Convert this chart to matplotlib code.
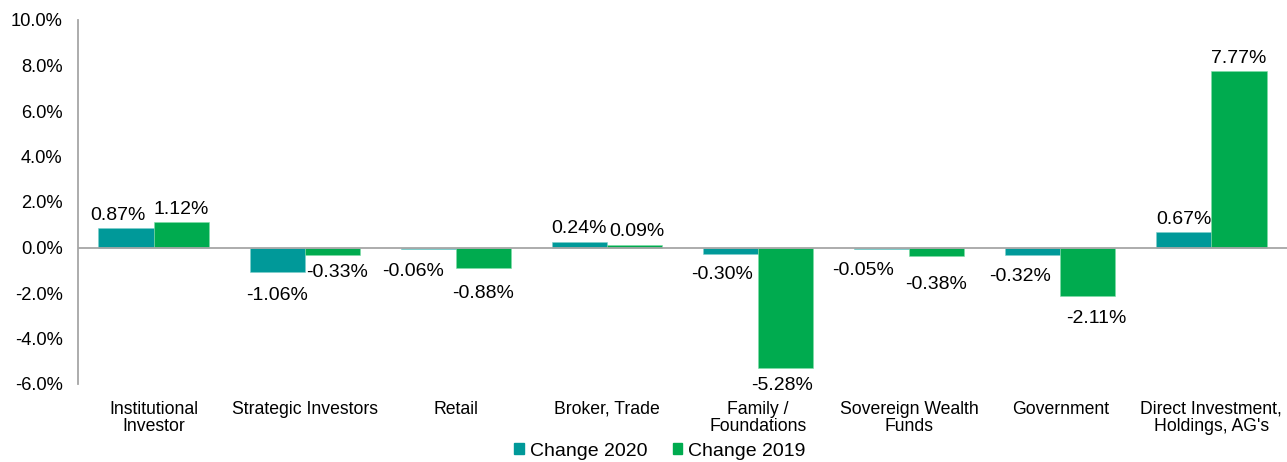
import matplotlib
matplotlib.use("Agg")
import matplotlib.pyplot as plt
import numpy as np
from matplotlib.ticker import FuncFormatter
from matplotlib.patches import Patch

plt.rcParams['font.family'] = ['Liberation Sans', 'DejaVu Sans']

categories = ["Institutional\nInvestor", "Strategic Investors", "Retail", "Broker, Trade",
              "Family /\nFoundations", "Sovereign Wealth\nFunds", "Government",
              "Direct Investment,\nHoldings, AG's"]
change_2020 = [0.87, -1.06, -0.06, 0.24, -0.30, -0.05, -0.32, 0.67]
change_2019 = [1.12, -0.33, -0.88, 0.09, -5.28, -0.38, -2.11, 7.77]
series_names = ["Change 2020", "Change 2019"]
y_ticks = [-6, -4, -2, 0, 2, 4, 6, 8, 10]

c2020 = "#009999"
c2019 = "#00AB4F"
gray = "#A6A6A6"

W, H = 1287, 462
fig = plt.figure(figsize=(W/100, H/100), dpi=100)
ax = fig.add_axes([78/W, 1-384/H, (W-78)/W, (384-20)/H])

x = np.arange(len(categories))
bw = 0.365
b1 = ax.bar(x - bw/2, change_2020, bw, color=c2020, edgecolor="#7FD0CC", linewidth=0.4, zorder=2)
b2 = ax.bar(x + bw/2, change_2019, bw, color=c2019, edgecolor="#7FDDA8", linewidth=0.4, zorder=2)

ax.set_xlim(-0.5, len(categories) - 0.5)
ax.set_ylim(-6, 10)
ax.set_yticks(y_ticks)
ax.yaxis.set_major_formatter(FuncFormatter(lambda v, p: f"{v:.1f}%"))
ax.set_xticks(x)
ax.set_xticklabels(categories, linespacing=1.05)
ax.tick_params(axis='both', length=0, colors='black')
ax.tick_params(axis='x', pad=12, labelsize=12.7)
ax.tick_params(axis='y', pad=11, labelsize=13.2)

for s in ['top', 'right', 'bottom']:
    ax.spines[s].set_visible(False)
ax.spines['left'].set_color(gray)
ax.spines['left'].set_linewidth(1.3)
ax.axhline(0, color=gray, linewidth=1.3, zorder=3)

# label offsets in pixels (dx, dy), keyed by (series, index); layout only
default_pos = (0, 4)
default_neg = (0, -13)
label_offsets = {
    (0, 0): (-8, 4),
    (0, 1): (0, -15), (1, 1): (5, -9),
    (0, 2): (-15, -14), (1, 2): (0, -17),
    (0, 3): (0, 5), (1, 3): (2, 5),
    (0, 4): (-8, -12), (1, 4): (-4, -9),
    (0, 5): (-19, -13), (1, 5): (-1, -20),
    (0, 6): (-13, -13), (1, 6): (8, -14),
}
for si, bars in enumerate([b1, b2]):
    vals = [change_2020, change_2019][si]
    for i, (bar, v) in enumerate(zip(bars, vals)):
        cx = bar.get_x() + bar.get_width()/2
        off = label_offsets.get((si, i), default_pos if v >= 0 else default_neg)
        ax.annotate(f"{v:.2f}%", (cx, v), xytext=off, textcoords='offset pixels',
                    ha='center', va='bottom' if v >= 0 else 'top', fontsize=14)

handles = [Patch(color=c2020), Patch(color=c2019)]
fig.legend(handles, series_names, loc='center', bbox_to_anchor=(660/W, 1-451/H),
           ncol=2, frameon=False, fontsize=14, handlelength=0.5, handleheight=0.5,
           handletextpad=0.3, columnspacing=1.3, borderpad=0)

fig.savefig("out.png", dpi=100)
